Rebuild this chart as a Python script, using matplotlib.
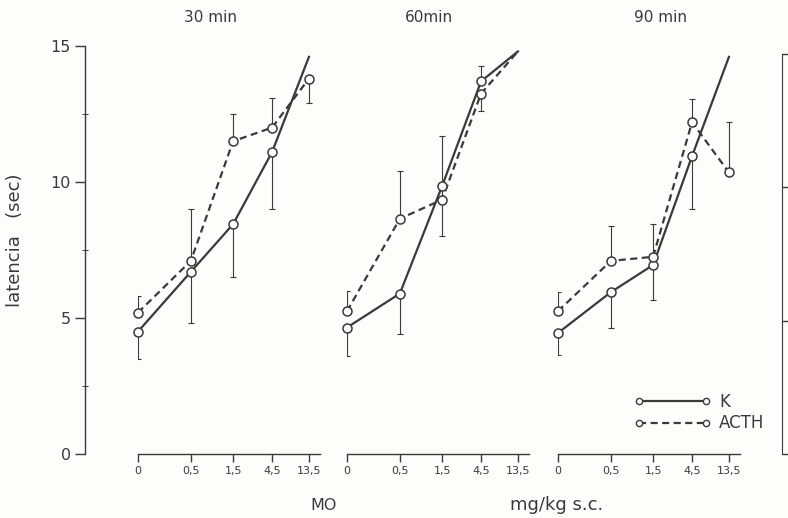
import matplotlib.pyplot as plt
from matplotlib.lines import Line2D
import numpy as np

# doses (mg/kg s.c.), drawn on an uneven scale like the original
doses = ['0', '0,5', '1,5', '4,5', '13,5']
dose_pos = [0, 1.29, 2.32, 3.27, 4.17]

times = ['30 min', '60min', '90 min']

# latencia (sec); last K value is where the line leaves the chart (no marker)
# *_lo / *_hi = ends of the error bars, one entry per measured point
k30 = [4.5, 6.7, 8.45, 11.1, 14.6]
k30_lo = [3.5, 4.8, 6.5, 9.0]
k30_hi = [4.5, 6.7, 8.45, 11.1]
acth30 = [5.2, 7.1, 11.5, 12.0, 13.8]
acth30_lo = [5.2, 7.1, 11.5, 12.0, 12.9]
acth30_hi = [5.8, 9.0, 12.5, 13.1, 13.8]

k60 = [4.65, 5.9, 9.85, 13.7, 14.8]
k60_lo = [3.6, 4.4, 8.0, 13.7]
k60_hi = [4.65, 5.9, 9.85, 14.25]
acth60 = [5.25, 8.65, 9.35, 13.25, 14.8]
acth60_lo = [5.25, 8.65, 9.35, 12.6]
acth60_hi = [6.0, 10.4, 11.7, 13.25]

k90 = [4.45, 5.95, 6.95, 10.95, 14.6]
k90_lo = [3.65, 4.65, 5.65, 9.0]
k90_hi = [4.45, 5.95, 6.95, 10.95]
acth90 = [5.25, 7.1, 7.25, 12.2, 10.35]
acth90_lo = [5.25, 7.1, 7.25, 12.2, 10.35]
acth90_hi = [5.95, 8.4, 8.45, 13.05, 12.2]

panels = [
    (k30, k30_lo, k30_hi, acth30, acth30_lo, acth30_hi),
    (k60, k60_lo, k60_hi, acth60, acth60_lo, acth60_hi),
    (k90, k90_lo, k90_hi, acth90, acth90_lo, acth90_hi),
]

ink = '#3a3a3a'
bg = '#fdfdfa'
W, H = 788, 518


def fx(px):
    return px / W


def fy(py):
    return 1 - py / H


y0_px, y15_px = 454, 46
fig = plt.figure(figsize=(W / 100, H / 100), dpi=100, facecolor=bg)

# shared y axis on the left
yax = fig.add_axes([fx(85), fy(y0_px), 10 / W, (y0_px - y15_px) / H])
yax.set_facecolor('none')
yax.set_ylim(0, 15)
yax.set_yticks([0, 5, 10, 15])
yax.set_yticks([2.5, 7.5, 12.5], minor=True)
yax.set_xticks([])
for s in ['right', 'top', 'bottom']:
    yax.spines[s].set_visible(False)
yax.spines['left'].set_color(ink)
yax.spines['left'].set_linewidth(1.0)
yax.tick_params(axis='y', which='major', direction='out', length=7, width=1,
                labelsize=11.5, pad=3, colors=ink)
yax.tick_params(axis='y', which='minor', direction='inout', length=4,
                width=0.7, colors=ink)

dash = (3.2, 2.0)
panel_left = [138, 347, 558]
for i, (k, k_lo, k_hi, a, a_lo, a_hi) in enumerate(panels):
    ax = fig.add_axes([fx(panel_left[i]), fy(y0_px), 182 / W,
                       (y0_px - y15_px) / H])
    ax.set_facecolor('none')
    ax.set_xlim(0, 4.44)
    ax.set_ylim(0, 15)
    ax.set_yticks([])
    for s in ['left', 'right', 'top']:
        ax.spines[s].set_visible(False)
    ax.spines['bottom'].set_color(ink)
    ax.spines['bottom'].set_linewidth(1.0)
    ax.set_xticks(dose_pos, doses)
    ax.tick_params(axis='x', direction='out', length=5.5, width=1,
                   labelsize=8, pad=3, colors=ink)

    for vals, lo, hi, ls in [(k, k_lo, k_hi, '-'), (a, a_lo, a_hi, '--')]:
        vals = np.array(vals)
        n = len(lo)
        line, = ax.plot(dose_pos, vals, ls, color=ink, lw=1.6, clip_on=False,
                        zorder=2)
        if ls == '--':
            line.set_dashes(dash)
        m = vals[:n]
        ax.errorbar(dose_pos[:n], m, yerr=[m - np.array(lo), np.array(hi) - m],
                    fmt='none', ecolor=ink, elinewidth=0.8, capsize=2.5,
                    capthick=0.8, zorder=1)
        ax.plot(dose_pos[:n], m, 'o', ms=6.5, mfc=bg, mec=ink, mew=1.1,
                zorder=3, clip_on=False)

# partial axis of the next figure at the right edge
rax = fig.add_axes([fx(782), fy(454), 20 / W, 400 / H])
rax.set_facecolor('none')
rax.set_ylim(0, 15)
rax.set_yticks([0, 5, 10, 15], [''] * 4)
rax.set_xticks([])
for s in ['right', 'top', 'bottom']:
    rax.spines[s].set_visible(False)
rax.spines['left'].set_color(ink)
rax.tick_params(axis='y', direction='in', length=6, width=1, colors=ink)

# titles and labels
title_x = [211, 429, 660]
for tx, t in zip(title_x, times):
    fig.text(fx(tx), fy(17), t, ha='center', va='center', fontsize=11,
             color=ink)
fig.text(fx(15), fy(240), 'latencia   (sec)', rotation=90, ha='center',
         va='center', fontsize=13, color=ink)
fig.text(fx(324), fy(505), 'MO', ha='center', va='center', fontsize=11.5,
         color=ink)
fig.text(fx(557), fy(505), 'mg/kg s.c.', ha='center', va='center',
         fontsize=13, color=ink)

h_k = Line2D([], [], color=ink, ls='-', lw=1.6, marker='o', ms=4.5,
             mfc=bg, mec=ink, mew=1.0)
h_a = Line2D([], [], color=ink, ls='--', lw=1.6, marker='o', ms=4.5,
             mfc=bg, mec=ink, mew=1.0)
h_a.set_dashes(dash)
leg = fig.legend([h_k, h_a], ['K', 'ACTH'], numpoints=2, frameon=False,
                 handlelength=4.6, loc='upper left',
                 bbox_to_anchor=(fx(634), fy(393)), fontsize=12,
                 handletextpad=0.5, labelspacing=0.2, borderpad=0,
                 borderaxespad=0)
for t in leg.get_texts():
    t.set_color(ink)

fig.savefig('out.png', dpi=100, facecolor=bg)
